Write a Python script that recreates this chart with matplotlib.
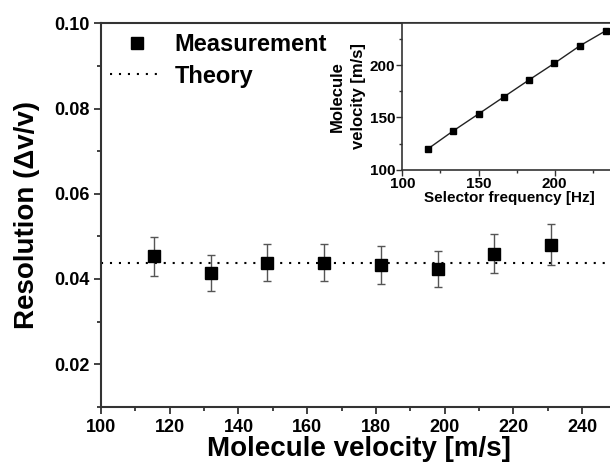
import matplotlib
matplotlib.use("Agg")
import matplotlib.pyplot as plt
from matplotlib.ticker import MultipleLocator, FormatStrFormatter
from matplotlib.lines import Line2D

plt.rcParams['font.family'] = ['Liberation Sans', 'DejaVu Sans']
plt.rcParams['font.weight'] = 'bold'

# Main data
velocity = [115.3, 131.9, 148.4, 164.9, 181.4, 198.0, 214.5, 231.0]
resolution = [0.0453, 0.0414, 0.0438, 0.0438, 0.0433, 0.0424, 0.0459, 0.0480]
res_err = [0.0045, 0.0042, 0.0044, 0.0044, 0.0044, 0.0042, 0.0046, 0.0048]
theory = 0.0438

# Inset data
sel_freq = [116.7, 133.3, 150.0, 166.5, 183.1, 199.7, 216.6, 233.5]
inset_vel = [119.8, 137.0, 153.3, 169.5, 185.8, 201.7, 218.6, 232.9]

fig = plt.figure(figsize=(6.10, 4.71), dpi=100)
ax = fig.add_axes([0.1656, 0.1365, 0.8449, 0.8140])

spine_c = '#333333'
ax.errorbar(velocity, resolution, yerr=res_err, fmt='none', ecolor='#555555',
            elinewidth=1.0, capsize=3, capthick=1.0, zorder=2)
ax.plot(velocity, resolution, 's', color='black', markersize=8, zorder=3)
ax.axhline(theory, color='black', lw=1.5, dashes=(1, 3.3), zorder=1)

ax.set_xlim(100, 250)
ax.set_ylim(0.01, 0.10)
ax.xaxis.set_major_locator(MultipleLocator(20))
ax.xaxis.set_minor_locator(MultipleLocator(10))
ax.yaxis.set_major_locator(MultipleLocator(0.02))
ax.yaxis.set_minor_locator(MultipleLocator(0.01))
ax.yaxis.set_major_formatter(FormatStrFormatter('%.2f'))
ax.set_yticks([0.02, 0.04, 0.06, 0.08, 0.10])
ax.tick_params(which='major', direction='out', length=5, width=1.3, color=spine_c,
               labelsize=13, top=False, right=False)
ax.tick_params(which='minor', direction='out', length=3, width=1.3, color=spine_c,
               top=False, right=False)
for s in ax.spines.values():
    s.set_linewidth(1.5)
    s.set_color(spine_c)
for lbl in ax.get_xticklabels() + ax.get_yticklabels():
    lbl.set_fontweight('bold')

ax.set_xlabel('Molecule velocity [m/s]', fontsize=20, fontweight='bold', labelpad=0)
ax.set_ylabel('Resolution (\u0394v/v)', fontsize=20, fontweight='bold', labelpad=10)

handles = [Line2D([], [], ls='none', marker='s', color='black', markersize=8),
           Line2D([], [], color='black', lw=1.5, dashes=(1, 3.3))]
ax.legend(handles, ['Measurement', 'Theory'], frameon=False, loc='upper left',
          bbox_to_anchor=(0.0175, 0.974), borderaxespad=0, borderpad=0,
          prop={'size': 17, 'weight': 'bold'},
          handlelength=2.25, handletextpad=0.47, labelspacing=0.35)

# Inset
ins = fig.add_axes([0.6595, 0.6397, 0.3498, 0.3108])
ins.plot(sel_freq, inset_vel, '-', color='#222222', lw=1.0)
ins.plot(sel_freq, inset_vel, 's', color='black', markersize=5)
ins.set_xlim(100, 240)
ins.set_ylim(100, 240)
ins.xaxis.set_major_locator(MultipleLocator(50))
ins.xaxis.set_minor_locator(MultipleLocator(25))
ins.yaxis.set_major_locator(MultipleLocator(50))
ins.yaxis.set_minor_locator(MultipleLocator(25))
ins.tick_params(which='major', direction='out', length=4, width=1.0, color=spine_c,
                labelsize=11, top=False, right=False, pad=1)
ins.tick_params(which='minor', direction='out', length=2.5, width=1.0, color=spine_c,
                top=False, right=False)
for s in ins.spines.values():
    s.set_linewidth(1.2)
    s.set_color(spine_c)
for lbl in ins.get_xticklabels() + ins.get_yticklabels():
    lbl.set_fontweight('bold')
ins.set_xlabel('Selector frequency [Hz]', fontsize=11, fontweight='bold', labelpad=0)
ins.set_ylabel('Molecule\nvelocity [m/s]', fontsize=12, fontweight='bold', labelpad=3,
               linespacing=1.45)

fig.savefig('out.png', dpi=100)
